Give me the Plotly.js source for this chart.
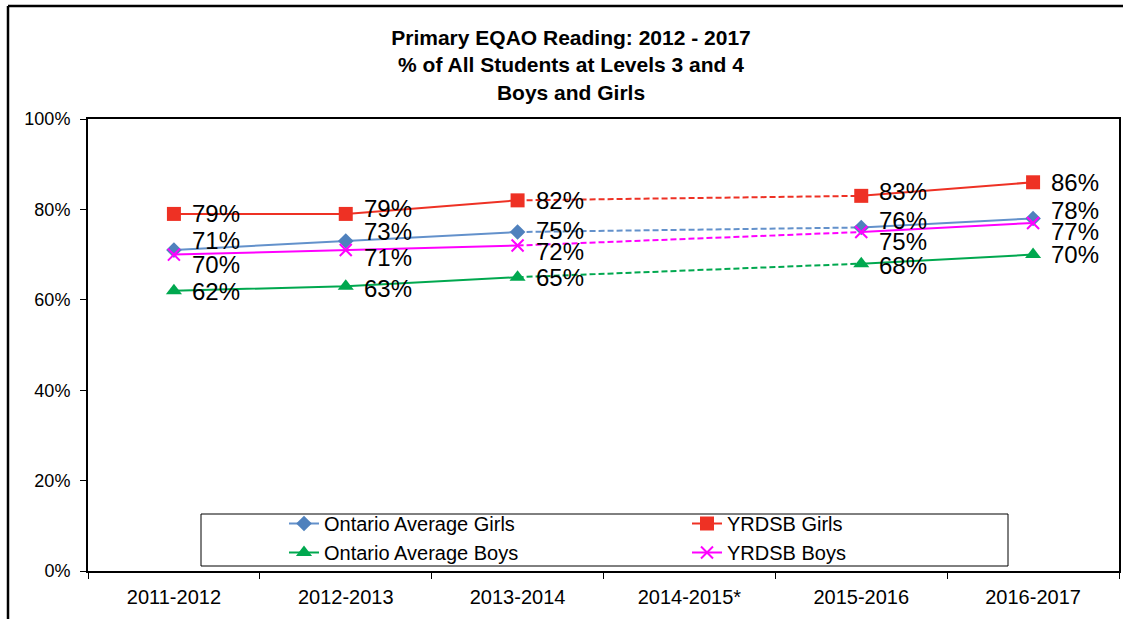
<!DOCTYPE html>
<html>
<head>
<meta charset="utf-8">
<script src="https://cdn.plot.ly/plotly-3.0.1.min.js"></script>
<style>
html,body{margin:0;padding:0;background:#fff;overflow:hidden;}
#chart{width:1123px;height:619px;}
</style>
</head>
<body>
<div id="chart"></div>
<script>
// ---- data ----
const years = ["2011-2012", "2012-2013", "2013-2014", "2014-2015*", "2015-2016", "2016-2017"];
const ontarioGirls = [71, 73, 75, null, 76, 78];
const yrdsbGirls   = [79, 79, 82, null, 83, 86];
const ontarioBoys  = [62, 63, 65, null, 68, 70];
const yrdsbBoys    = [70, 71, 72, null, 75, 77];
const yTicks = [0, 20, 40, 60, 80, 100];
const yTickText = yTicks.map(v => v + "%");

// ---- styling ----
const FONT = "Arial, 'Liberation Sans', sans-serif";
const series = [
  {name: "Ontario Average Girls", y: ontarioGirls, color: "#4F81BD", line: "#6391CB", symbol: "diamond", size: 12, lshift: [10, 10, 2, 0, 7, 8]},
  {name: "YRDSB Girls",           y: yrdsbGirls,   color: "#EE3124", line: "#EE3124", symbol: "square",  size: 14, lshift: [0, 5, 0, 0, 4, 0]},
  {name: "Ontario Average Boys",  y: ontarioBoys,  color: "#00A84F", line: "#00A84F", symbol: "triangle-up", size: 14, lshift: [-1, -2, 0, 0, -2, 0]},
  {name: "YRDSB Boys",            y: yrdsbBoys,    color: "#FF00FF", line: "#FF00FF", symbol: "x-thin", size: 12, lshift: [-10, -7, -6, 0, -9, -9]}
];

const traces = [];
const annotations = [];
// dashed connectors across the missing year
series.forEach(s => {
  traces.push({
    x: [years[2], years[4]], y: [s.y[2], s.y[4]],
    type: "scatter", mode: "lines", showlegend: false, hoverinfo: "skip",
    line: {color: s.line, width: 2, dash: "6px,3px"}
  });
});
series.forEach(s => {
  traces.push({
    x: years, y: s.y, name: s.name, type: "scatter", mode: "lines+markers",
    connectgaps: false,
    line: {color: s.line, width: 2},
    marker: {symbol: s.symbol, size: s.size, color: s.color,
             line: {color: s.color, width: s.symbol === "x-thin" ? 2 : 0}}
  });
  s.y.forEach((v, i) => {
    if (v === null) return;
    annotations.push({
      x: years[i], y: v, xref: "x", yref: "y", text: v + "%",
      showarrow: false, xanchor: "left", yanchor: "middle",
      xshift: 16, yshift: s.lshift[i],
      font: {family: FONT, size: 24, color: "#000"}
    });
  });
});

// paper-coordinate helpers (plot area: x 88..1119, y 119..571)
const L = 88, R = 1119, T = 119, B = 571;
const px = x => (x - L) / (R - L);
const py = y => (B - y) / (B - T);

const layout = {
  width: 1123, height: 619,
  margin: {l: L, r: 1123 - R, t: T, b: 619 - B, autoexpand: false},
  paper_bgcolor: "#fff", plot_bgcolor: "#fff",
  font: {family: FONT, color: "#000"},
  title: {
    text: "Primary EQAO Reading: 2012 - 2017<br>% of All Students at Levels 3 and 4<br>Boys and Girls",
    font: {family: FONT, size: 21, weight: "bold", color: "#000"},
    x: 571 / 1123, xanchor: "center", xref: "container",
    y: 1 - 45 / 619, yanchor: "middle", yref: "container"
  },
  xaxis: {
    type: "category", categoryorder: "array", categoryarray: years,
    range: [-0.5, 5.5], tickson: "boundaries", ticks: "outside", ticklen: 6,
    tickcolor: "#000", tickwidth: 1,
    showline: true, linecolor: "#000", linewidth: 2, mirror: true,
    showgrid: false, zeroline: false, automargin: false,
    tickfont: {family: FONT, size: 20, color: "#000"},
    ticklabelstandoff: 7, fixedrange: true
  },
  yaxis: {
    range: [0, 100], tickmode: "array", tickvals: yTicks, ticktext: yTickText,
    ticks: "outside", ticklen: 6, tickcolor: "#000", tickwidth: 1,
    showline: true, linecolor: "#000", linewidth: 2, mirror: true,
    showgrid: false, zeroline: false, automargin: false,
    tickfont: {family: FONT, size: 18, color: "#000"},
    ticklabelstandoff: 6, fixedrange: true
  },
  showlegend: true,
  legend: {
    orientation: "h", x: px(284), xanchor: "left", y: py(504), yanchor: "top",
    entrywidth: 358, entrywidthmode: "pixels",
    bgcolor: "rgba(0,0,0,0)", borderwidth: 0,
    font: {family: FONT, size: 20, color: "#000"},
    tracegroupgap: 0, traceorder: "normal"
  },
  annotations: annotations,
  shapes: [
    // legend frame
    {type: "rect", xref: "paper", yref: "paper", x0: px(201), x1: px(1008), y0: py(566), y1: py(514),
     line: {color: "#000", width: 1}, fillcolor: "#fff", layer: "above"},
    // outer chart frame (left and top edges)
    {type: "line", xref: "paper", yref: "paper", x0: px(8), x1: px(8), y0: py(640), y1: py(6),
     line: {color: "#000", width: 2.5}},
    {type: "line", xref: "paper", yref: "paper", x0: px(8), x1: px(1140), y0: py(6), y1: py(6),
     line: {color: "#000", width: 2.5}}
  ]
};

Plotly.newPlot("chart", traces, layout, {staticPlot: true, displayModeBar: false});
</script>
</body>
</html>
